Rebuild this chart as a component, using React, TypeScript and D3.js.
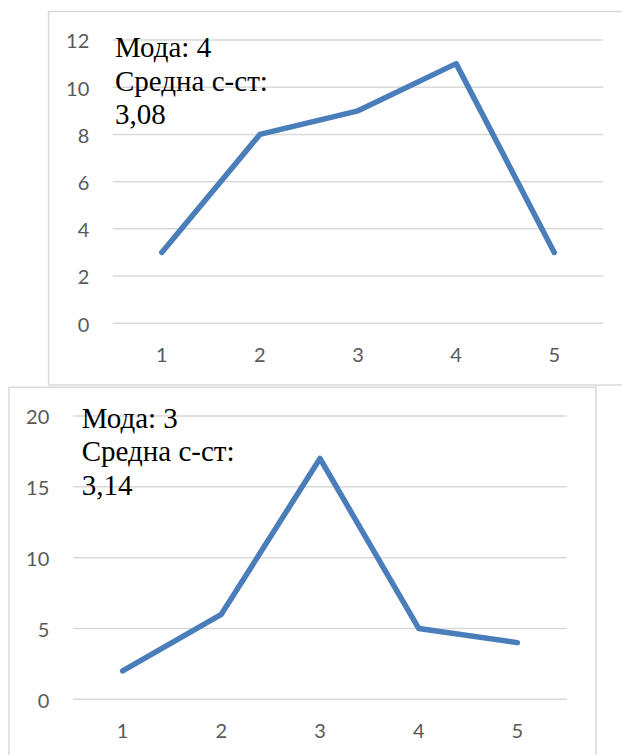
import React from "react";
import * as d3 from "d3";

const categories = ["1", "2", "3", "4", "5"];
const seriesTop = [3, 8, 9, 11, 3];
const seriesBottom = [2, 6, 17, 5, 4];
const ticksTop = [0, 2, 4, 6, 8, 10, 12];
const ticksBottom = [0, 5, 10, 15, 20];
const textTop = ["Мода: 4", "Средна с-ст:", "3,08"];
const textBottom = ["Мода: 3", "Средна с-ст:", "3,14"];

const LINE = "#4a7ebb";
const GRID = "#d9d9d9";
const AXIS_TEXT = "#595959";
const SERIF = "Liberation Serif";
const SANS = "Lato";

type PanelProps = {
  box: { x: number; y: number; w: number; h: number };
  plot: { x0: number; x1: number; y0: number; y1: number };
  yMax: number;
  ticks: number[];
  values: number[];
  labels: string[];
  labelX: number;
  labelBase: number;
  yLabelRight: number;
};

function Panel({ box, plot, yMax, ticks, values, labels, labelX, labelBase, yLabelRight }: PanelProps) {
  const x = d3.scaleBand<string>().domain(categories).range([plot.x0, plot.x1]).padding(0);
  const y = d3.scaleLinear().domain([0, yMax]).range([plot.y0, plot.y1]);
  const line = d3
    .line<number>()
    .x((_, i) => (x(categories[i]) as number) + x.bandwidth() / 2)
    .y((d) => y(d));
  return (
    <g>
      <rect x={box.x} y={box.y} width={box.w} height={box.h} fill="#fff" stroke={GRID} strokeWidth={1.5} />
      {ticks.map((t) => (
        <g key={t}>
          <line x1={plot.x0} x2={plot.x1} y1={y(t)} y2={y(t)} stroke={GRID} strokeWidth={1.5} />
          <text
            x={yLabelRight}
            y={y(t)}
            dy="0.42em"
            textAnchor="end"
            style={{ fontFamily: SANS, fontSize: 20 }}
            fill={AXIS_TEXT}
          >
            {t}
          </text>
        </g>
      ))}
      {categories.map((c) => (
        <text
          key={c}
          x={(x(c) as number) + x.bandwidth() / 2}
          y={plot.y0 + 39}
          textAnchor="middle"
          style={{ fontFamily: SANS, fontSize: 20 }}
          fill={AXIS_TEXT}
        >
          {c}
        </text>
      ))}
      <path
        d={line(values) || ""}
        fill="none"
        stroke={LINE}
        strokeWidth={5.5}
        strokeLinejoin="round"
        strokeLinecap="round"
      />
      {labels.map((l, i) => (
        <text
          key={i}
          x={labelX}
          y={labelBase + i * 33.4}
          style={{ fontFamily: SERIF, fontSize: 29 }}
          fill="#000"
        >
          {l}
        </text>
      ))}
    </g>
  );
}

export default function App() {
  return (
    <svg
      width={622}
      height={755}
      style={{ position: "absolute", left: 0, top: 0, background: "#fff" }}
    >
      <Panel
        box={{ x: 48.5, y: 11.5, w: 600, h: 373.5 }}
        plot={{ x0: 112.7, x1: 603.3, y0: 323.3, y1: 40 }}
        yMax={12}
        ticks={ticksTop}
        values={seriesTop}
        labels={textTop}
        labelX={115}
        labelBase={57.3}
        yLabelRight={89.3}
      />
      <Panel
        box={{ x: 9, y: 387.3, w: 587, h: 400 }}
        plot={{ x0: 73.3, x1: 566.7, y0: 699.3, y1: 416 }}
        yMax={20}
        ticks={ticksBottom}
        values={seriesBottom}
        labels={textBottom}
        labelX={81.7}
        labelBase={427.7}
        yLabelRight={49.3}
      />
    </svg>
  );
}
